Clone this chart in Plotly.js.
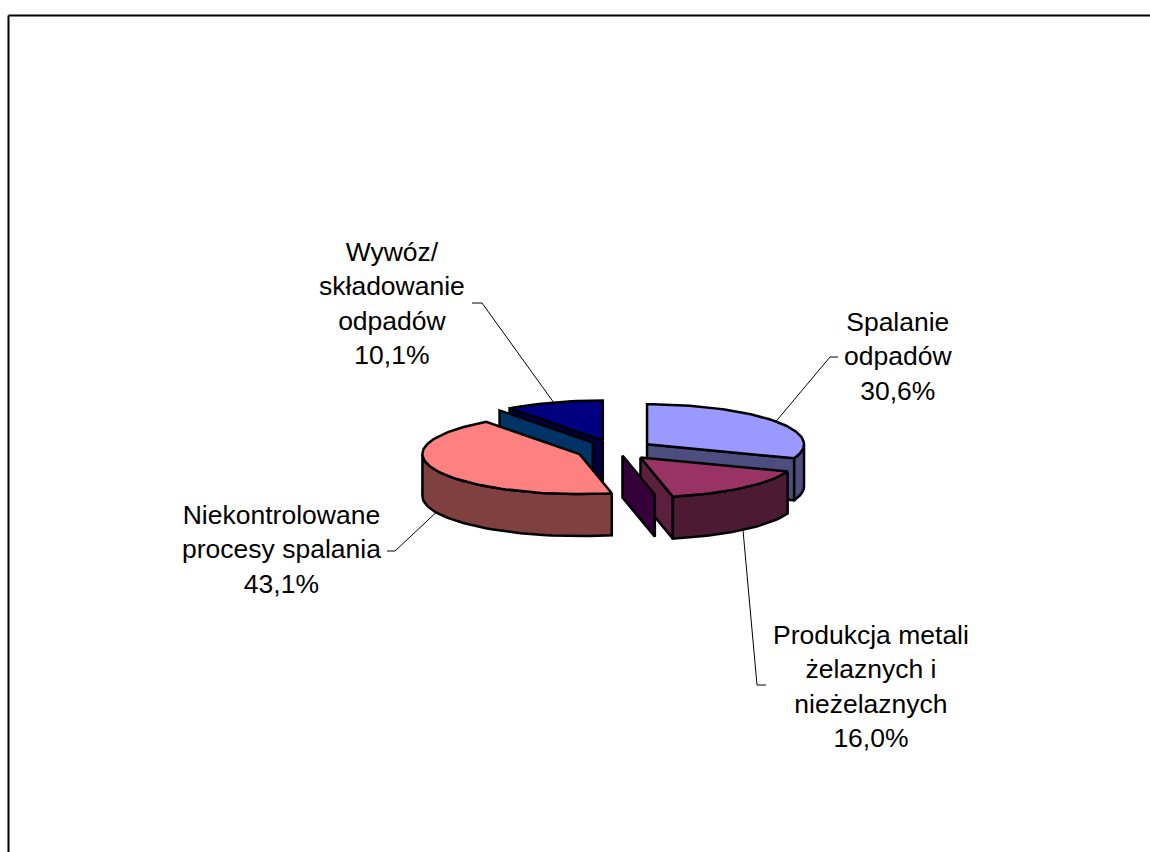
<!DOCTYPE html>
<html>
<head>
<meta charset="utf-8">
<script src="https://cdn.plot.ly/plotly-3.0.1.min.js"></script>
<style>
  html, body { margin: 0; padding: 0; background: #ffffff; }
  #chart { width: 1150px; height: 852px; }
</style>
</head>
<body>
<div id="chart"></div>
<script>
// Źródła emisji – udział procentowy
const categories = [
  'Spalanie odpadów',
  'Produkcja metali żelaznych i nieżelaznych',
  'Niekontrolowane procesy spalania',
  'Wywóz/ składowanie odpadów'
];
const shares = [30.6, 16.0, 43.1, 10.1];
const labelLines = [
  ['Spalanie', 'odpadów'],
  ['Produkcja metali', 'żelaznych i', 'nieżelaznych'],
  ['Niekontrolowane', 'procesy spalania'],
  ['Wywóz/', 'składowanie', 'odpadów']
];

// Slice colours: top face, curved side, radial side, detached inner plate
const topColors   = ['#9999FF', '#993366', '#FF8080', '#000080'];
const sideColors  = ['#4D4D80', '#4D1A33', '#804040', '#000040'];
const wallColors  = ['#4D4D80', '#5C1F3D', '#804040', '#000040'];
const plateColors = [null, '#36003A', null, '#003366'];

// 3D pie geometry (pixels)
const CX = 615, CY = 450, RX = 157, RY = 40, DEPTH = 42, EXPLODE = 39;
const plateShift = [null, [-18, -2], null, [-10, 2]];

// Label placement: block centre and leader knee / end
const labelPos = [[898, 356], [871, 686], [281, 549], [392, 303]];
const leaderKnee = [[830, 357], [757, 685], [395, 551], [482, 303]];
const leaderTail = [[838, 357], [766, 685], [387, 551], [472, 303]];

const rad = d => d * Math.PI / 180;
function pt(c, deg, z) {
  return [c[0] + RX * Math.sin(rad(deg)), c[1] - RY * Math.cos(rad(deg)) + z];
}
function arc(c, a, b, z) {
  const n = Math.max(2, Math.ceil(Math.abs(b - a) / 2));
  const out = [];
  for (let i = 0; i <= n; i++) out.push(pt(c, a + (b - a) * i / n, z));
  return out;
}

const traces = [];
function poly(points, fill, shift) {
  const dx = shift ? shift[0] : 0, dy = shift ? shift[1] : 0;
  const xs = points.map(p => p[0] + dx), ys = points.map(p => p[1] + dy);
  xs.push(xs[0]); ys.push(ys[0]);
  traces.push({
    type: 'scatter', mode: 'lines', x: xs, y: ys,
    fill: 'toself', fillcolor: fill,
    line: { color: '#000000', width: 2.5, shape: 'linear' },
    hoverinfo: 'skip', showlegend: false
  });
}

// slice angles, clockwise from 12 o'clock
const total = shares.reduce((s, v) => s + v, 0);
const slices = [];
let acc = 0;
shares.forEach((v, i) => {
  const a = acc / total * 360;
  acc += v;
  const b = acc / total * 360;
  const mid = (a + b) / 2;
  const apex = [CX + EXPLODE * Math.sin(rad(mid)),
                CY - EXPLODE * Math.cos(rad(mid)) * RY / RX];
  slices.push({ i, a, b, mid, apex });
});

function radialWall(s, edge) {
  const c = s.apex;
  return [[c[0], c[1]], pt(c, edge, 0), pt(c, edge, DEPTH), [c[0], c[1] + DEPTH]];
}

function drawSlice(s) {
  const c = s.apex, i = s.i;
  // radial side facing the viewer
  const edges = [];
  if (Math.cos(rad(s.a - 90)) < -0.01) edges.push(s.a);
  if (Math.cos(rad(s.b + 90)) < -0.01) edges.push(s.b);
  edges.forEach(e => {
    poly(radialWall(s, e), wallColors[i]);
    if (plateColors[i]) poly(radialWall(s, e), plateColors[i], plateShift[i]);
  });
  // curved side on the front half
  const lo = Math.max(s.a, 90), hi = Math.min(s.b, 270);
  if (lo < hi) {
    const up = arc(c, lo, hi, 0), down = arc(c, hi, lo, DEPTH);
    poly(up.concat(down), sideColors[i]);
  }
  // top face
  poly([[c[0], c[1]]].concat(arc(c, s.a, s.b, 0)), topColors[i]);
}

// back slices first, then the front ones
[3, 0, 2, 1].forEach(k => drawSlice(slices[k]));

// leader lines from the slice edge to the label
const shapes = [];
slices.forEach(s => {
  const front = Math.cos(rad(s.mid)) < 0;
  const p = pt(s.apex, s.mid, front ? DEPTH : 0);
  const k = leaderKnee[s.i], t = leaderTail[s.i];
  shapes.push({
    type: 'path', xref: 'x', yref: 'y',
    path: `M${p[0]},${p[1]} L${k[0]},${k[1]} L${t[0]},${t[1]}`,
    line: { color: '#000000', width: 1 }
  });
});

// chart frame
shapes.push({ type: 'line', xref: 'paper', yref: 'paper', x0: 8.5 / 1150, x1: 1.01, y0: 1 - 15.5 / 852, y1: 1 - 15.5 / 852,
  line: { color: '#000000', width: 2 } });
shapes.push({ type: 'line', xref: 'paper', yref: 'paper', x0: 8.5 / 1150, x1: 8.5 / 1150, y0: 1 - 15.5 / 852, y1: -0.01,
  line: { color: '#000000', width: 2 } });

const annotations = slices.map(s => ({
  x: labelPos[s.i][0], y: labelPos[s.i][1], xref: 'x', yref: 'y',
  xanchor: 'center', yanchor: 'middle', showarrow: false, align: 'center',
  text: labelLines[s.i].concat([shares[s.i].toFixed(1).replace('.', ',') + '%']).join('<br>'),
  font: { family: 'Liberation Sans, Arial, sans-serif', size: 26.5, color: '#000000' }
}));

const layout = {
  width: 1150, height: 852,
  margin: { l: 0, r: 0, t: 0, b: 0, pad: 0 },
  paper_bgcolor: '#ffffff', plot_bgcolor: '#ffffff',
  xaxis: { range: [0, 1150], visible: false, fixedrange: true },
  yaxis: { range: [852, 0], visible: false, fixedrange: true },
  showlegend: false, hovermode: false,
  shapes, annotations
};

Plotly.newPlot('chart', traces, layout, { staticPlot: true, displayModeBar: false });
</script>
</body>
</html>
